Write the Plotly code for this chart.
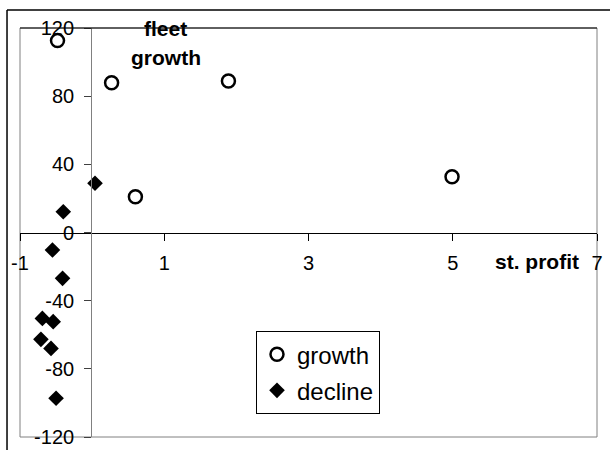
import plotly.graph_objects as go

# Standardised profit (x) vs fleet growth (y)
growth_profit = [-0.48, 0.27, 1.89, 0.60, 4.99]
growth_fleet = [112.6, 87.9, 88.9, 21.0, 32.7]

decline_profit = [0.04, -0.40, -0.55, -0.41, -0.69, -0.54, -0.71, -0.57, -0.50]
decline_fleet = [28.9, 12.2, -10.3, -26.9, -50.4, -52.3, -62.7, -68.0, -97.3]

x_ticks = [-1, 1, 3, 5, 7]
y_ticks = [-120, -80, -40, 0, 40, 80, 120]

X_MIN, X_MAX = -1, 7
Y_MIN, Y_MAX = -120, 120
FONT = "Arial, Liberation Sans, sans-serif"

fig = go.Figure()
fig.add_trace(go.Scatter(
    x=growth_profit, y=growth_fleet, mode="markers", name="growth",
    legendgroup="g1",
    marker=dict(symbol="circle-open", size=13, color="black",
                line=dict(color="black", width=2.5)),
))
fig.add_trace(go.Scatter(
    x=decline_profit, y=decline_fleet, mode="markers", name="decline",
    legendgroup="g2",
    marker=dict(symbol="diamond", size=12, color="black"),
))
# empty trace that carries the visible y axis, which crosses at x = 0
fig.add_trace(go.Scatter(x=[], y=[], xaxis="x2", yaxis="y2", showlegend=False,
                         hoverinfo="skip"))

zero_frac = (0 - X_MIN) / (X_MAX - X_MIN)

fig.update_layout(
    width=610, height=450,
    margin=dict(l=20, r=13, t=28, b=13, autoexpand=False),
    paper_bgcolor="white", plot_bgcolor="rgba(0,0,0,0)",
    font=dict(family=FONT, size=20, color="black"),
    showlegend=True,
    hovermode=False,
    legend=dict(
        x=0.409, y=0.259, xanchor="left", yanchor="top",
        bgcolor="white", bordercolor="black", borderwidth=1,
        font=dict(family=FONT, size=24, color="black"),
        tracegroupgap=2,
    ),
    xaxis=dict(
        range=[X_MIN, X_MAX], tickvals=x_ticks, ticktext=[str(v) for v in x_ticks],
        anchor="free", position=0.5, automargin=False,
        showline=True, linecolor="black", linewidth=1,
        ticks="outside", ticklen=7, tickcolor="black",
        ticklabelstandoff=5,
        showgrid=False, zeroline=False,
        tickfont=dict(family=FONT, size=20, color="black"),
    ),
    yaxis=dict(range=[Y_MIN, Y_MAX], visible=False, showgrid=False, zeroline=False,
               automargin=False),
    xaxis2=dict(
        domain=[zero_frac, 1], range=[0, X_MAX], visible=False,
        showgrid=False, zeroline=False, anchor="y2", automargin=False,
    ),
    yaxis2=dict(
        domain=[0, 1], range=[Y_MIN, Y_MAX], tickvals=y_ticks,
        ticktext=[str(v) for v in y_ticks],
        anchor="x2", automargin=False,
        showline=True, linecolor="#808080", linewidth=1,
        ticks="outside", ticklen=7, tickcolor="#404040",
        ticklabelstandoff=6,
        showgrid=False, zeroline=False,
        tickfont=dict(family=FONT, size=20, color="black"),
    ),
)

# Axis titles placed next to the axes
fig.add_annotation(x=6.17, y=-17.3, xref="x", yref="y", text="<b>st. profit</b>",
                   showarrow=False, font=dict(family=FONT, size=21, color="black"))
fig.add_annotation(x=0.253, y=0.998, xref="paper", yref="paper", xanchor="center",
                   yanchor="middle", text="<b>fleet</b>",
                   showarrow=False, font=dict(family=FONT, size=21, color="black"))
fig.add_annotation(x=0.253, y=0.927, xref="paper", yref="paper", xanchor="center",
                   yanchor="middle", text="<b>growth</b>",
                   showarrow=False, font=dict(family=FONT, size=21, color="black"))

# Plot-area frame
fig.add_shape(type="rect", xref="paper", yref="paper", x0=0, y0=0, x1=1, y1=1,
              line=dict(color="#808080", width=1), layer="below")
fig.add_shape(type="line", xref="paper", yref="paper", x0=0, y0=1, x1=1, y1=1,
              line=dict(color="black", width=1))
# Outer chart frame (top and left edges)
fig.add_shape(type="line", xref="paper", yref="paper", x0=-0.0225, y0=1.044, x1=1.05, y1=1.044,
              line=dict(color="black", width=1.5))
fig.add_shape(type="line", xref="paper", yref="paper", x0=-0.0225, y0=1.044, x1=-0.0225, y1=-0.05,
              line=dict(color="black", width=1.5))

fig.write_html("out.html", config={"displayModeBar": False})
